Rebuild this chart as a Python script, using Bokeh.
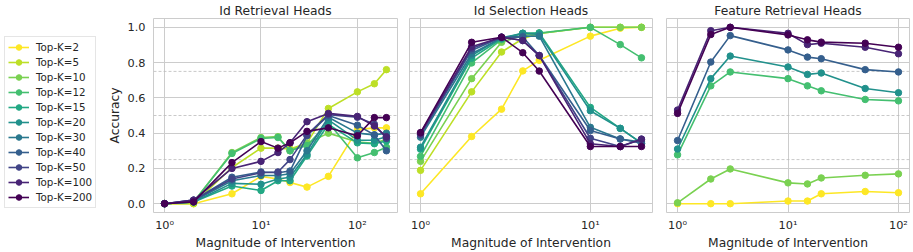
from bokeh.plotting import figure
from bokeh.models import Range1d, FixedTicker, PrintfTickFormatter, Span, Legend, LegendItem
from bokeh.layouts import row
from bokeh.embed import file_html
from bokeh.resources import INLINE

# ---------------- data ----------------
topk = [2, 5, 10, 12, 15, 20, 30, 40, 50, 100, 200]
colors = ["#fde725", "#bddf26", "#7ad151", "#44bf70", "#22a884", "#21918c",
          "#2a788e", "#355f8d", "#414487", "#482475", "#440154"]

titles = ["Id Retrieval Heads", "Id Selection Heads", "Feature Retrieval Heads"]

# Id Retrieval Heads
x_ret = [1, 2, 5, 10, 15, 20, 30, 50, 100, 150, 200]
ret_k2 = [0, 0, 0.056, 0.155, 0.14, 0.12, 0.094, 0.155, 0.42, 0.43, 0.43]
ret_k5 = [0, 0, 0.205, 0.315, 0.315, 0.31, 0.343, 0.54, 0.634, 0.68, 0.76]
ret_k10 = [0, 0.01, 0.29, 0.375, 0.38, 0.30, 0.343, 0.40, 0.35, 0.343, 0.365]
ret_k12 = [0, 0.01, 0.285, 0.37, 0.375, 0.30, 0.33, 0.46, 0.26, 0.29, 0.32]
ret_k15 = [0, 0.01, 0.10, 0.075, 0.13, 0.13, 0.27, 0.45, 0.345, 0.34, 0.355]
ret_k20 = [0, 0.01, 0.115, 0.11, 0.14, 0.15, 0.28, 0.475, 0.36, 0.36, 0.38]
ret_k30 = [0, 0.015, 0.13, 0.16, 0.16, 0.17, 0.30, 0.49, 0.40, 0.39, 0.40]
ret_k40 = [0, 0.02, 0.15, 0.18, 0.175, 0.185, 0.385, 0.50, 0.445, 0.39, 0.30]
ret_k50 = [0, 0.02, 0.14, 0.175, 0.18, 0.25, 0.39, 0.505, 0.49, 0.45, 0.37]
ret_k100 = [0, 0.02, 0.20, 0.24, 0.29, 0.345, 0.465, 0.512, 0.495, 0.44, 0.38]
ret_k200 = [0, 0.01, 0.233, 0.352, 0.315, 0.345, 0.41, 0.43, 0.385, 0.488, 0.488]

# Id Selection Heads
x_sel = [1, 2, 3, 4, 5, 10, 15, 20]
sel_k2 = [0.056, 0.381, 0.536, 0.753, 0.813, 0.95, 0.995, 1.0]
sel_k5 = [0.189, 0.634, 0.86, 0.935, 0.965, 1.0, 1.0, 1.0]
sel_k10 = [0.24, 0.709, 0.915, 0.955, 0.965, 1.0, 1.0, 1.0]
sel_k12 = [0.268, 0.798, 0.93, 0.966, 0.968, 1.0, 0.902, 0.827]
sel_k15 = [0.309, 0.825, 0.935, 0.966, 0.968, 0.546, 0.427, 0.343]
sel_k20 = [0.32, 0.84, 0.94, 0.966, 0.96, 0.527, 0.427, 0.343]
sel_k30 = [0.377, 0.85, 0.94, 0.95, 0.95, 0.433, 0.367, 0.35]
sel_k40 = [0.39, 0.869, 0.944, 0.945, 0.84, 0.415, 0.367, 0.343]
sel_k50 = [0.39, 0.88, 0.944, 0.925, 0.84, 0.371, 0.324, 0.366]
sel_k100 = [0.40, 0.89, 0.944, 0.925, 0.84, 0.34, 0.324, 0.366]
sel_k200 = [0.403, 0.915, 0.944, 0.856, 0.752, 0.324, 0.324, 0.324]

# Feature Retrieval Heads
x_feat = [1, 2, 3, 10, 15, 20, 50, 100]
feat_k2 = [0.0, 0.0, 0.0, 0.015, 0.015, 0.056, 0.069, 0.062]
feat_k10 = [0.005, 0.14, 0.197, 0.118, 0.112, 0.146, 0.161, 0.169]
feat_k12 = [0.277, 0.668, 0.747, 0.709, 0.668, 0.64, 0.591, 0.583]
feat_k20 = [0.31, 0.709, 0.837, 0.775, 0.733, 0.741, 0.653, 0.629]
feat_k40 = [0.358, 0.803, 0.953, 0.872, 0.831, 0.822, 0.76, 0.747]
feat_k100 = [0.531, 0.981, 1.0, 0.966, 0.902, 0.91, 0.887, 0.85]
feat_k200 = [0.512, 0.959, 1.0, 0.957, 0.929, 0.916, 0.91, 0.887]

y_ticks = [0.0, 0.2, 0.4, 0.6, 0.8, 1.0]
x_ticks = [1, 10, 100]
x_tick_labels = {1: "10⁰", 10: "10¹", 100: "10²"}
ref_lines = [0.25, 0.5, 0.75]

ret_series = [ret_k2, ret_k5, ret_k10, ret_k12, ret_k15, ret_k20, ret_k30,
              ret_k40, ret_k50, ret_k100, ret_k200]
sel_series = [sel_k2, sel_k5, sel_k10, sel_k12, sel_k15, sel_k20, sel_k30,
              sel_k40, sel_k50, sel_k100, sel_k200]
feat_series = {2: feat_k2, 10: feat_k10, 12: feat_k12, 20: feat_k20,
               40: feat_k40, 100: feat_k100, 200: feat_k200}

# ---------------- style ----------------
FONT = "DejaVu Sans"
TXT = "#262626"
GRID = "#cccccc"
H = 252
TOP = 18
BOTTOM = 39
LW = 1.6
MS = 6.5


def make_panel(title, xs, series_pairs, xlo, xhi, width, bl, br, show_y):
    p = figure(width=width, height=H, x_axis_type="log",
               x_range=Range1d(xlo, xhi), y_range=Range1d(-0.05, 1.05),
               toolbar_location=None, output_backend="svg",
               min_border_left=bl, min_border_right=br,
               min_border_top=TOP, min_border_bottom=BOTTOM)
    p.outline_line_color = GRID
    p.outline_line_width = 1
    p.background_fill_color = "white"
    p.border_fill_color = "white"

    p.title.text = title
    p.title.align = "center"
    p.title.text_font = FONT
    p.title.text_font_size = "12.3px"
    p.title.text_font_style = "normal"
    p.title.text_color = TXT
    p.title.standoff = 1

    xa = p.xaxis[0]
    xa.ticker = FixedTicker(ticks=x_ticks, minor_ticks=[])
    xa.major_label_overrides = x_tick_labels
    xa.axis_line_color = None
    xa.major_tick_line_color = None
    xa.minor_tick_line_color = None
    xa.major_tick_out = 0
    xa.major_tick_in = 0
    xa.minor_tick_out = 0
    xa.minor_tick_in = 0
    xa.major_label_standoff = 6
    xa.major_label_text_font = FONT
    xa.major_label_text_font_size = "11.3px"
    xa.major_label_text_color = TXT
    xa.axis_label = "Magnitude of Intervention"
    xa.axis_label_text_font = FONT
    xa.axis_label_text_font_size = "12.3px"
    xa.axis_label_text_font_style = "normal"
    xa.axis_label_text_color = TXT
    xa.axis_label_standoff = 1

    ya = p.yaxis[0]
    ya.ticker = FixedTicker(ticks=y_ticks, minor_ticks=[])
    ya.formatter = PrintfTickFormatter(format="%.1f")
    ya.axis_line_color = None
    ya.major_tick_line_color = None
    ya.minor_tick_line_color = None
    ya.major_tick_out = 0
    ya.major_tick_in = 0
    ya.minor_tick_out = 0
    ya.minor_tick_in = 0
    ya.major_label_standoff = 8
    ya.major_label_text_font = FONT
    ya.major_label_text_font_size = "11.3px"
    ya.major_label_text_color = TXT
    if show_y:
        ya.axis_label = "Accuracy"
        ya.axis_label_text_font = FONT
        ya.axis_label_text_font_size = "12.3px"
        ya.axis_label_text_font_style = "normal"
        ya.axis_label_text_color = TXT
        ya.axis_label_standoff = 3
    else:
        ya.visible = False

    p.xgrid.ticker = FixedTicker(ticks=x_ticks, minor_ticks=[])
    p.ygrid.ticker = FixedTicker(ticks=y_ticks, minor_ticks=[])
    p.grid.grid_line_color = GRID
    p.grid.grid_line_width = 1

    for v in ref_lines:
        p.add_layout(Span(location=v, dimension="width", line_color="#bbbbbb",
                          line_dash="3 2", line_width=0.8, level="underlay"))

    for color, ys in series_pairs:
        p.line(xs, ys, line_color=color, line_width=LW)
        p.scatter(xs, ys, size=MS, fill_color=color, line_color=color)
    return p


p1 = make_panel(titles[0], x_ret, list(zip(colors, ret_series)),
                10 ** -0.115, 10 ** 2.416, 303, 53, 6, True)
p2 = make_panel(titles[1], x_sel, list(zip(colors, sel_series)),
                10 ** -0.065, 10 ** 1.366, 255, 6, 6, False)
feat_pairs = [(colors[topk.index(k)], feat_series[k]) for k in topk if k in feat_series]
p3 = make_panel(titles[2], x_feat, feat_pairs,
                10 ** -0.1, 10 ** 2.1, 255, 8, 4, False)

# legend-only figure: the key's renderers use the retrieval data, kept out of view
pl = figure(width=100, height=H, x_range=Range1d(-2, -1), y_range=Range1d(-2, -1),
            x_axis_location=None, y_axis_location=None,
            toolbar_location=None, output_backend="svg",
            min_border_left=0, min_border_right=0, min_border_top=TOP, min_border_bottom=BOTTOM)
pl.grid.visible = False
pl.outline_line_color = None
items = []
for k, c, ys in zip(topk, colors, ret_series):
    rl = pl.line(x_ret, ys, line_color=c, line_width=LW)
    rs = pl.scatter(x_ret, ys, size=MS, fill_color=c, line_color=c)
    items.append(LegendItem(label=f"Top-K={k}", renderers=[rl, rs]))
leg = Legend(items=items, location="bottom_left", orientation="vertical",
             label_text_font=FONT, label_text_font_size="10.3px", label_text_color=TXT,
             glyph_width=21, glyph_height=14, label_height=14, label_standoff=7,
             spacing=1, padding=3, margin=4,
             border_line_color=GRID, border_line_width=1, background_fill_alpha=0.8)
pl.add_layout(leg)

layout = row(pl, p1, p2, p3, spacing=0)
open("out.html", "w").write(file_html(layout, INLINE))
